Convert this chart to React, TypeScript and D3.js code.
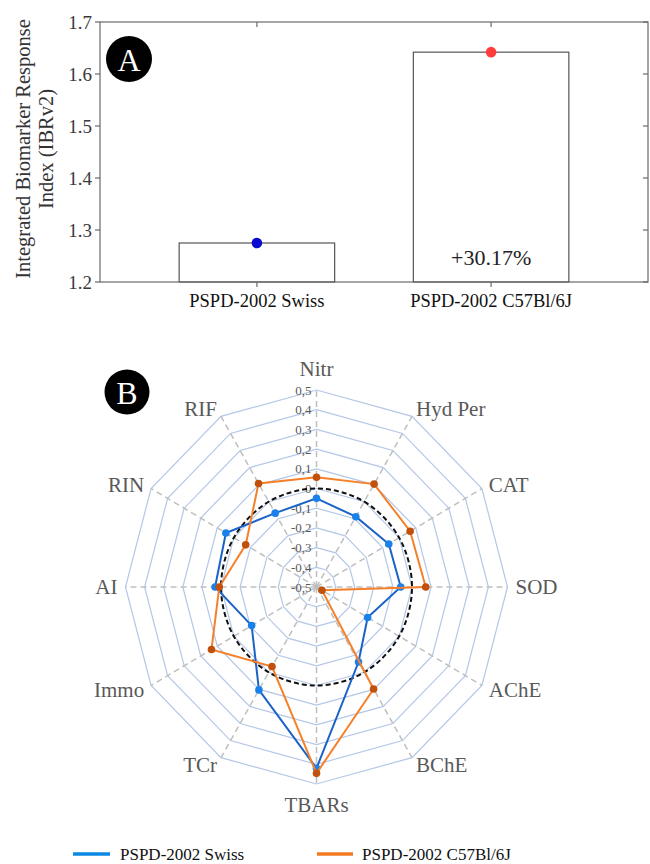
import React from 'react';
import * as d3 from 'd3';

// Panel A data
const groups = ['PSPD-2002 Swiss', 'PSPD-2002 C57Bl/6J'];
const ibrValues = [1.275, 1.642];
const yTicks = [1.2, 1.3, 1.4, 1.5, 1.6, 1.7];
const diffLabel = '+30.17%';

// Panel B data
const biomarkers = ['Nitr', 'Hyd Per', 'CAT', 'SOD', 'AChE', 'BChE', 'TBARs', 'TCr', 'Immo', 'AI', 'RIN', 'RIF'];
const swissScores = [-0.05, -0.088, -0.063, -0.059, -0.191, -0.06, 0.42, 0.103, -0.108, 0.031, 0.048, -0.067];
const c57Scores = [0.057, 0.103, 0.066, 0.072, -0.467, 0.098, 0.446, -0.034, 0.135, 0.009, -0.072, 0.107];
const baselineScores = [0, 0, 0, 0, 0, 0, 0, 0, 0, 0, 0, 0];
const ringValues = [-0.4, -0.3, -0.2, -0.1, 0, 0.1, 0.2, 0.3, 0.4, 0.5];
const ringTickValues = [-0.5, -0.4, -0.3, -0.2, -0.1, 0, 0.1, 0.2, 0.3, 0.4, 0.5];
const ringTickLabels = ['-0,5', '-0,4', '-0,3', '-0,2', '-0,1', '0', '0,1', '0,2', '0,3', '0,4', '0,5'];
const legendNames = ['PSPD-2002 Swiss', 'PSPD-2002 C57Bl/6J'];

const FONT = "'Liberation Serif', 'Times New Roman', 'DejaVu Serif', serif";
const GRAY_TEXT = '#595959';

export default function App() {
  // ---------- panel A ----------
  const plot = { left: 100, right: 648, top: 22, bottom: 282 };
  const x = d3.scalePoint<string>().domain(groups).range([plot.left, plot.right]).padding(0.67);
  const y = d3.scaleLinear().domain([1.2, 1.7]).range([plot.bottom, plot.top]);
  const barW = x.step() * 0.664;
  const dotColors = ['#0a0ad0', '#ff3b3b'];

  // ---------- panel B ----------
  const cx = 316.5, cy = 587, rx = 191, ry = 197;
  const n = biomarkers.length;
  const angle = d3.scaleLinear().domain([0, n]).range([0, 2 * Math.PI]);
  const r = d3.scaleLinear().domain([-0.5, 0.5]).range([0, 1]);
  const pt = (i: number, v: number): [number, number] => {
    const a = angle(i);
    return [cx + rx * r(v) * Math.sin(a), cy - ry * r(v) * Math.cos(a)];
  };
  const closedLine = d3.line<[number, number]>().curve(d3.curveLinearClosed);
  const smoothLine = d3.line<[number, number]>().curve(d3.curveCatmullRomClosed.alpha(0.5));
  const seriesPts = (vals: number[]) => vals.map((v, i) => pt(i, v));

  const swissLine = '#1b63c6';
  const swissDot = '#1a80ea';
  const c57Line = '#f5802a';
  const c57Dot = '#c0500c';

  return (
    <svg
      width={650}
      height={864}
      style={{ position: 'absolute', left: 0, top: 0, background: '#fff', fontFamily: FONT }}
    >
      {/* ===== Panel A ===== */}
      <g>
        {/* bars */}
        {groups.map((g, i) => (
          <rect
            key={g}
            x={(x(g) as number) - barW / 2}
            y={y(ibrValues[i])}
            width={barW}
            height={plot.bottom - y(ibrValues[i])}
            fill="#fff"
            stroke="#555"
            strokeWidth={1.2}
          />
        ))}
        {/* frame */}
        <rect
          x={plot.left}
          y={plot.top}
          width={plot.right - plot.left}
          height={plot.bottom - plot.top}
          fill="none"
          stroke="#6a6a6a"
          strokeWidth={1.2}
        />
        {/* y ticks */}
        {yTicks.map((t) => (
          <g key={t}>
            <line x1={plot.left - 5} x2={plot.left} y1={y(t)} y2={y(t)} stroke="#6a6a6a" strokeWidth={1.2} />
            <line x1={plot.right - 5} x2={plot.right} y1={y(t)} y2={y(t)} stroke="#6a6a6a" strokeWidth={1.2} />
            <text x={plot.left - 8} y={y(t)} textAnchor="end" dominantBaseline="central" fontSize={19} fill="#3a3a3a">
              {t.toFixed(1)}
            </text>
          </g>
        ))}
        {/* x ticks and labels */}
        {groups.map((g) => (
          <g key={g}>
            <line x1={x(g)} x2={x(g)} y1={plot.top} y2={plot.top + 5} stroke="#6a6a6a" strokeWidth={1.2} />
            <line x1={x(g)} x2={x(g)} y1={plot.bottom} y2={plot.bottom + 5} stroke="#6a6a6a" strokeWidth={1.2} />
            <text x={x(g)} y={307} textAnchor="middle" fontSize={18.5} fill="#111">
              {g}
            </text>
          </g>
        ))}
        {/* dots */}
        {groups.map((g, i) => (
          <circle key={g} cx={x(g)} cy={y(ibrValues[i])} r={5.3} fill={dotColors[i]} />
        ))}
        <text x={x(groups[1])} y={265} textAnchor="middle" fontSize={22} fill="#222">
          {diffLabel}
        </text>
        {/* y axis title */}
        <g transform="translate(23,149) rotate(-90)">
          <text x={0} y={0} textAnchor="middle" dominantBaseline="central" fontSize={20.5} fill="#333">
            Integrated Biomarker Response
          </text>
          <text x={0} y={23} textAnchor="middle" dominantBaseline="central" fontSize={20.5} fill="#333">
            Index (IBRv2)
          </text>
        </g>
        {/* panel badge */}
        <circle cx={129} cy={59} r={23} fill="#000" />
        <text x={129} y={60} textAnchor="middle" dominantBaseline="central" fontSize={32} fill="#fff">
          A
        </text>
      </g>

      {/* ===== Panel B ===== */}
      <g>
        {/* rings */}
        {ringValues.map((v) => (
          <path
            key={v}
            d={closedLine(biomarkers.map((_, i) => pt(i, v))) as string}
            fill="none"
            stroke="#b4c7e7"
            strokeWidth={1.2}
          />
        ))}
        {/* spokes */}
        {biomarkers.map((b, i) => {
          const [x2, y2] = pt(i, 0.5);
          return (
            <line key={b} x1={cx} y1={cy} x2={x2} y2={y2} stroke="#bfbfbf" strokeWidth={1.5} strokeDasharray="6,4" />
          );
        })}
        {/* ring tick labels */}
        {ringTickValues.map((v, k) => (
          <text
            key={v}
            x={cx - 5}
            y={pt(0, v)[1]}
            textAnchor="end"
            dominantBaseline="central"
            fontSize={13}
            fill={GRAY_TEXT}
          >
            {ringTickLabels[k]}
          </text>
        ))}
        {/* axis labels */}
        {biomarkers.map((b, i) => {
          const a = angle(i);
          const s = Math.sin(a);
          const c = Math.cos(a);
          const anchor = s > 0.1 ? 'start' : s < -0.1 ? 'end' : 'middle';
          const off = anchor === 'middle' ? 21 : 8;
          const [vx, vy] = pt(i, 0.5);
          return (
            <text
              key={b}
              x={vx + off * s}
              y={vy - off * c}
              textAnchor={anchor}
              dominantBaseline="central"
              fontSize={21}
              fill={GRAY_TEXT}
            >
              {b}
            </text>
          );
        })}
        {/* zero reference */}
        <path
          d={smoothLine(seriesPts(baselineScores)) as string}
          fill="none"
          stroke="#111"
          strokeWidth={2}
          strokeDasharray="5,3"
        />
        {/* Swiss */}
        <path d={closedLine(seriesPts(swissScores)) as string} fill="none" stroke={swissLine} strokeWidth={2} />
        {seriesPts(swissScores).map(([px, py], i) => (
          <circle key={i} cx={px} cy={py} r={3.8} fill={swissDot} />
        ))}
        {/* C57 */}
        <path d={closedLine(seriesPts(c57Scores)) as string} fill="none" stroke={c57Line} strokeWidth={2} />
        {seriesPts(c57Scores).map(([px, py], i) => (
          <circle key={i} cx={px} cy={py} r={3.8} fill={c57Dot} />
        ))}
        {/* panel badge */}
        <circle cx={127} cy={392} r={22.5} fill="#000" />
        <text x={127} y={393} textAnchor="middle" dominantBaseline="central" fontSize={32} fill="#fff">
          B
        </text>
      </g>

      {/* ===== Legend ===== */}
      <g>
        <line x1={73} x2={110} y1={854} y2={854} stroke="#0a88e2" strokeWidth={3.5} />
        <text x={120} y={854} dominantBaseline="central" fontSize={17} fill="#111">
          {legendNames[0]}
        </text>
        <line x1={317} x2={353} y1={854} y2={854} stroke="#f27a22" strokeWidth={3.5} />
        <text x={362} y={854} dominantBaseline="central" fontSize={17} fill="#111">
          {legendNames[1]}
        </text>
      </g>
    </svg>
  );
}
